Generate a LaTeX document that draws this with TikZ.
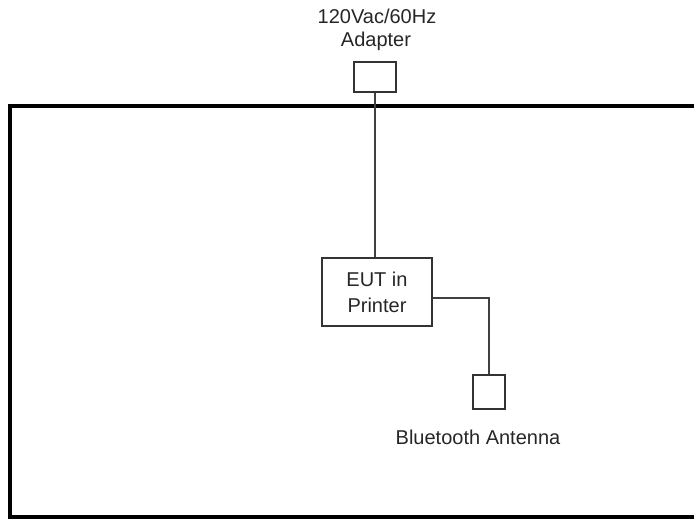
\documentclass[tikz,border=0pt]{standalone}
\usepackage{fontspec}
\setmainfont{Liberation Sans}
\begin{document}
\begin{tikzpicture}[x=1pt,y=-1pt,
  box/.style={draw=black!80, line width=2pt, inner sep=0pt, fill=white},
  wire/.style={draw=black!75, line width=2pt},
  frame/.style={draw=black, line width=4pt},
  lbl/.style={font=\fontsize{20}{26}\selectfont, inner sep=0pt, text=black!85}]
\useasboundingbox (0,0) rectangle (694,521);
% outer frame (open to the right)
\coordinate (f1) at (720,106);
\coordinate (f2) at (10,106);
\coordinate (f3) at (10,517);
\coordinate (f4) at (720,517);
\begin{scope}
\clip (0,0) rectangle (694,521);
\draw[frame, line join=miter] (f1) -- (f2) -- (f3) -- (f4);
\end{scope}
% boxes
\node[box, minimum width=42pt, minimum height=30pt] (adp) at (375,77) {};
\node[box, lbl, minimum width=110pt, minimum height=68pt, align=center] (eut) at (377,292) {EUT in\\Printer};
\node[box, minimum width=32pt, minimum height=34pt] (ant) at (489,392) {};
% labels
\node[lbl, anchor=base] (adt1) at (377,24) {120Vac/60Hz};
\node[lbl, anchor=base] (adt2) at (376,47) {Adapter};
\node[lbl, anchor=base] (btl) at (478,445) {Bluetooth Antenna};
% wires
\coordinate (eutr) at (eut.east |- 0,298);
\draw[wire] (adp.south) -- (adp.south |- eut.north);
\draw[wire] (eutr) -| (ant.north);
\end{tikzpicture}
\end{document}
